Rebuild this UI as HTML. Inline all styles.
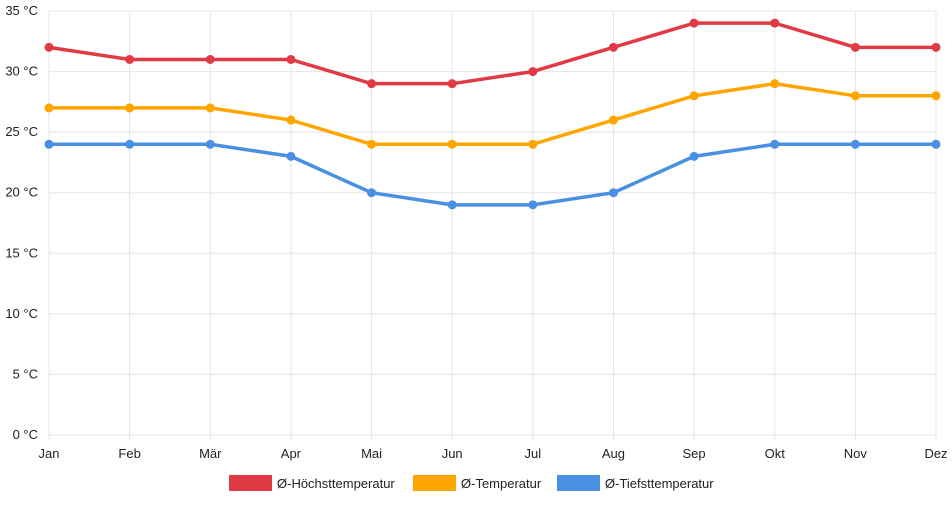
<!DOCTYPE html>
<html><head><meta charset="utf-8"><style>
body{margin:0;background:#fff;font-family:"Liberation Sans",sans-serif}
svg text{font-family:"Liberation Sans",sans-serif;font-size:13px;fill:#222}
</style></head><body>
<svg id="c" width="952" height="500"></svg>
<script>
const months=["Jan","Feb","Mär","Apr","Mai","Jun","Jul","Aug","Sep","Okt","Nov","Dez"];
const highs=[32,31,31,31,29,29,30,32,34,34,32,32];
const avgs=[27,27,27,26,24,24,24,26,28,29,28,28];
const lows=[24,24,24,23,20,19,19,20,23,24,24,24];
const yTicks=[0,5,10,15,20,25,30,35];
const seriesNames=["Ø-Höchsttemperatur","Ø-Temperatur","Ø-Tiefsttemperatur"];
const svg=document.getElementById('c');const NS="http://www.w3.org/2000/svg";
const x0=49,x1=936,y0=435,y1=11;
const xs=i=>x0+(x1-x0)*i/(months.length-1);
const ys=v=>y0-(y0-y1)*v/35;
function mk(t,a,p){const e=document.createElementNS(NS,t);for(const k in a)e.setAttribute(k,a[k]);(p||svg).appendChild(e);return e;}
yTicks.forEach(v=>{const l=mk('line',{x1:x0,x2:x1,y1:ys(v),y2:ys(v),stroke:'#e5e5e5'});


const t=mk('text',{x:38,y:ys(v)+4,'text-anchor':'end'});t.textContent=v+' °C';

});
months.forEach((m,i)=>{const l=mk('line',{x1:xs(i),x2:xs(i),y1:y1,y2:y0+5,stroke:'#e5e5e5'});


const t=mk('text',{x:xs(i),y:458,'text-anchor':'middle'});t.textContent=m;

});
const data=[highs,avgs,lows];const cols=["#e03a45","#ffa500","#4a90e2"];
data.forEach((d,s)=>{const g=mk('g',{});


mk('polyline',{points:d.map((v,i)=>xs(i)+','+ys(v)).join(' '),fill:'none',stroke:cols[s],'stroke-width':3.5},g);
d.forEach((v,i)=>{const c=mk('circle',{cx:xs(i),cy:ys(v),r:4.5,fill:cols[s]},g);

});});
const lx=[229,413,557];
seriesNames.forEach((n,s)=>{const g=mk('g',{});


mk('rect',{x:lx[s],y:475,width:43,height:16,fill:cols[s]},g);
const t=mk('text',{x:lx[s]+48,y:488},g);t.textContent=n;});
</script></body></html>
